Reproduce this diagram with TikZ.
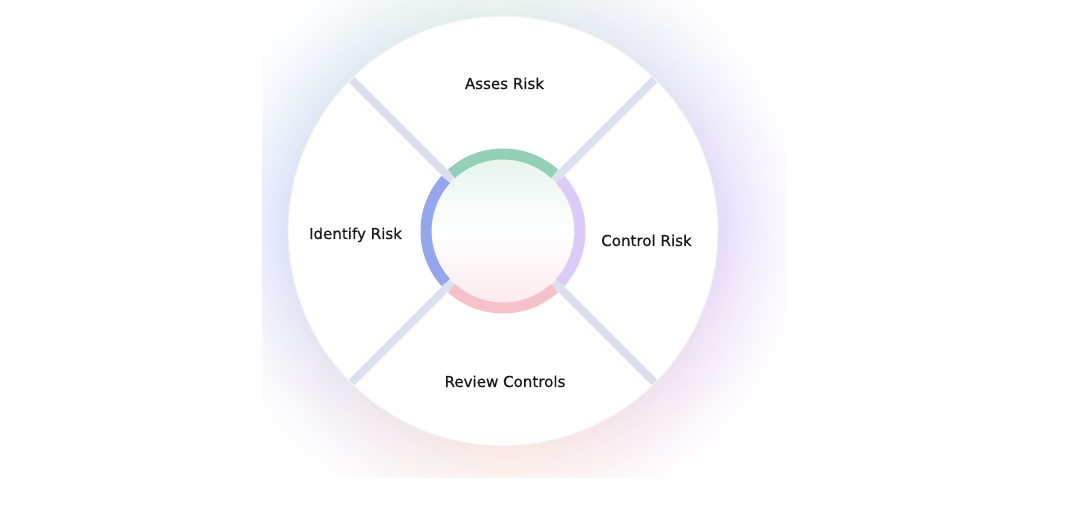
\documentclass[tikz,border=0pt]{standalone}
\usepackage{fontspec}
\setmainfont{DejaVu Sans}
\newfontfamily\lblfont[FakeBold=0.4]{DejaVu Sans}
\usetikzlibrary{calc}
\definecolor{gblue}{HTML}{DCE2FA}
\definecolor{gpurple}{HTML}{E5DAFC}
\definecolor{ggreen}{HTML}{E4F0EB}
\definecolor{gpeach}{HTML}{FBE8E3}
\definecolor{barcol}{HTML}{DCDFF0}
\definecolor{ringgreen}{HTML}{92D0BA}
\definecolor{ringblue}{HTML}{93A6EE}
\definecolor{ringpink}{HTML}{F7C1CA}
\definecolor{ringpurple}{HTML}{DCCBFA}
\definecolor{discgreen}{HTML}{E8F4EF}
\definecolor{discpink}{HTML}{FCEBEF}
\definecolor{txt}{HTML}{181818}
\tikzset{
  lbl/.style={font=\lblfont\fontsize{11.3}{13}\selectfont, text=txt, anchor=base, inner sep=0pt},
  divbar/.style={line width=6pt, barcol},
  ringarc/.style={line width=8.25pt},
  halo/.style={line width=3.4pt},
}
\begin{document}
\begin{tikzpicture}[x=0.75pt,y=0.75pt]
\useasboundingbox (0,0) rectangle (1067,506);
\fill[white] (0,0) rectangle (1067,506);
\coordinate (c) at (503,275);
% background glow (halo around the disc, cut by the frame)
\begin{scope}
  \clip (262,28) rectangle (785,506);
  \foreach \a in {0,5,...,355}{
    \pgfmathtruncatemacro\k{\a/90}
    \pgfmathtruncatemacro\p{100-100*(\a-90*\k)/90}
    \ifcase\k \colorlet{segbase}{gpurple!\p!ggreen}%
    \or \colorlet{segbase}{ggreen!\p!gblue}%
    \or \colorlet{segbase}{gblue!\p!gpeach}%
    \or \colorlet{segbase}{gpeach!\p!gpurple}\fi
    \foreach \r in {216,220,...,320}{
      \pgfmathtruncatemacro\q{100*(1-(\r-216)/106)^1.7}
      \draw[halo, segbase!\q!white] ($(c)+(\a-0.6:\r)$) arc[start angle=\a-0.6, end angle=\a+5.6, radius=\r];
    }
  }
\end{scope}
% outer disc
\fill[white, draw=black!6, line width=0.8pt] (c) circle (215);
% dividing bars
\foreach \a in {45,135,225,315}
  \draw[divbar] ($(c)+(\a:72)$) -- ($(c)+(\a:214)$);
% inner disc
\shade[top color=discgreen, bottom color=discpink, middle color=white] (c) circle (72);
\draw[black!5, line width=0.6pt] (c) circle (71.5);
% ring arcs
\draw[ringarc, ringgreen] ($(c)+(48:77)$) arc[start angle=48, end angle=132, radius=77];
\draw[ringarc, ringblue] ($(c)+(138:77)$) arc[start angle=138, end angle=222, radius=77];
\draw[ringarc, ringpink] ($(c)+(228:77)$) arc[start angle=228, end angle=312, radius=77];
\draw[ringarc, ringpurple] ($(c)+(318:77)$) arc[start angle=318, end angle=402, radius=77];
% labels
\node[lbl] (assess) at (504.5,417) {Asses Risk};
\node[lbl] (identify) at (355.5,267) {Identify Risk};
\node[lbl] (control) at (646.5,260) {Control Risk};
\node[lbl] (review) at (505,119) {Review Controls};
\end{tikzpicture}
\end{document}
